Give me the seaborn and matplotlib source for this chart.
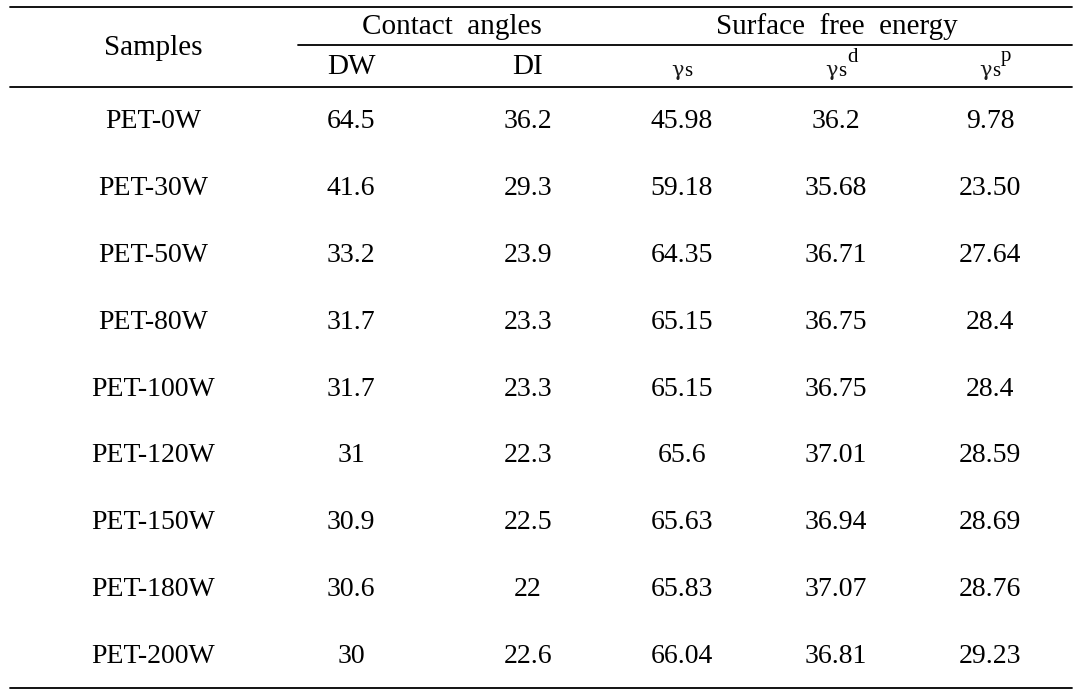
import matplotlib
matplotlib.use("Agg")
import matplotlib.pyplot as plt
import seaborn as sns

samples = ["PET-0W", "PET-30W", "PET-50W", "PET-80W", "PET-100W",
           "PET-120W", "PET-150W", "PET-180W", "PET-200W"]
dw = ["64.5", "41.6", "33.2", "31.7", "31.7", "31", "30.9", "30.6", "30"]
di = ["36.2", "29.3", "23.9", "23.3", "23.3", "22.3", "22.5", "22", "22.6"]
gamma_s = ["45.98", "59.18", "64.35", "65.15", "65.15", "65.6", "65.63", "65.83", "66.04"]
gamma_d = ["36.2", "35.68", "36.71", "36.75", "36.75", "37.01", "36.94", "37.07", "36.81"]
gamma_p = ["9.78", "23.50", "27.64", "28.4", "28.4", "28.59", "28.69", "28.76", "29.23"]

group_headers = ["Contact angles", "Surface free energy"]
sub_headers = ["DW", "DI", "γs", "γs", "γs"]
sub_sups = ["", "", "", "d", "p"]

sns.set_theme(style="white")
plt.rcParams["font.family"] = ["Liberation Serif", "DejaVu Serif"]

W, H = 1082, 695
fig = plt.figure(figsize=(W / 100, H / 100), dpi=100)
ax = fig.add_axes([0, 0, 1, 1])
ax.set_xlim(0, W)
ax.set_ylim(H, 0)
ax.axis("off")

# layout
col_x = [153, 351, 528, 682, 836, 990]
group_x = [452, 837]
row_y0, row_dy = 122, 66.8
left, right = 10, 1072
lw = 1.3

ax.plot([left, right], [7, 7], color="black", lw=lw)
ax.plot([298, right], [45, 45], color="black", lw=lw)
ax.plot([left, right], [87, 87], color="black", lw=lw)
ax.plot([left, right], [688, 688], color="black", lw=lw)

hfs = 21
ax.text(col_x[0], 48, "Samples", ha="center", va="center", fontsize=hfs, color="black")
for gx, g in zip(group_x, group_headers):
    ax.text(gx, 27, g.replace(" ", "  "), ha="center", va="center",
            fontsize=hfs, color="black")

for i, (h, sup) in enumerate(zip(sub_headers, sub_sups)):
    x = col_x[i + 1]
    if h.startswith("γ"):
        ax.text(x - 4, 70, "γ", ha="center", va="center", fontsize=15,
                family=["DejaVu Serif"], color="#1a1a1a")
        ax.text(x + 2, 71, "s", ha="left", va="center", fontsize=15, color="black")
        if sup:
            ax.text(x + 11, 57, sup, ha="left", va="center", fontsize=15, color="black")
    else:
        ax.text(x, 67, h, ha="center", va="center", fontsize=hfs, color="black")

bfs = 20
cols = [samples, dw, di, gamma_s, gamma_d, gamma_p]
for j, col in enumerate(cols):
    for i, val in enumerate(col):
        ax.text(col_x[j], row_y0 + i * row_dy, val, ha="center", va="center",
                fontsize=bfs, color="black")

fig.savefig("out.png", dpi=100, facecolor="white")
